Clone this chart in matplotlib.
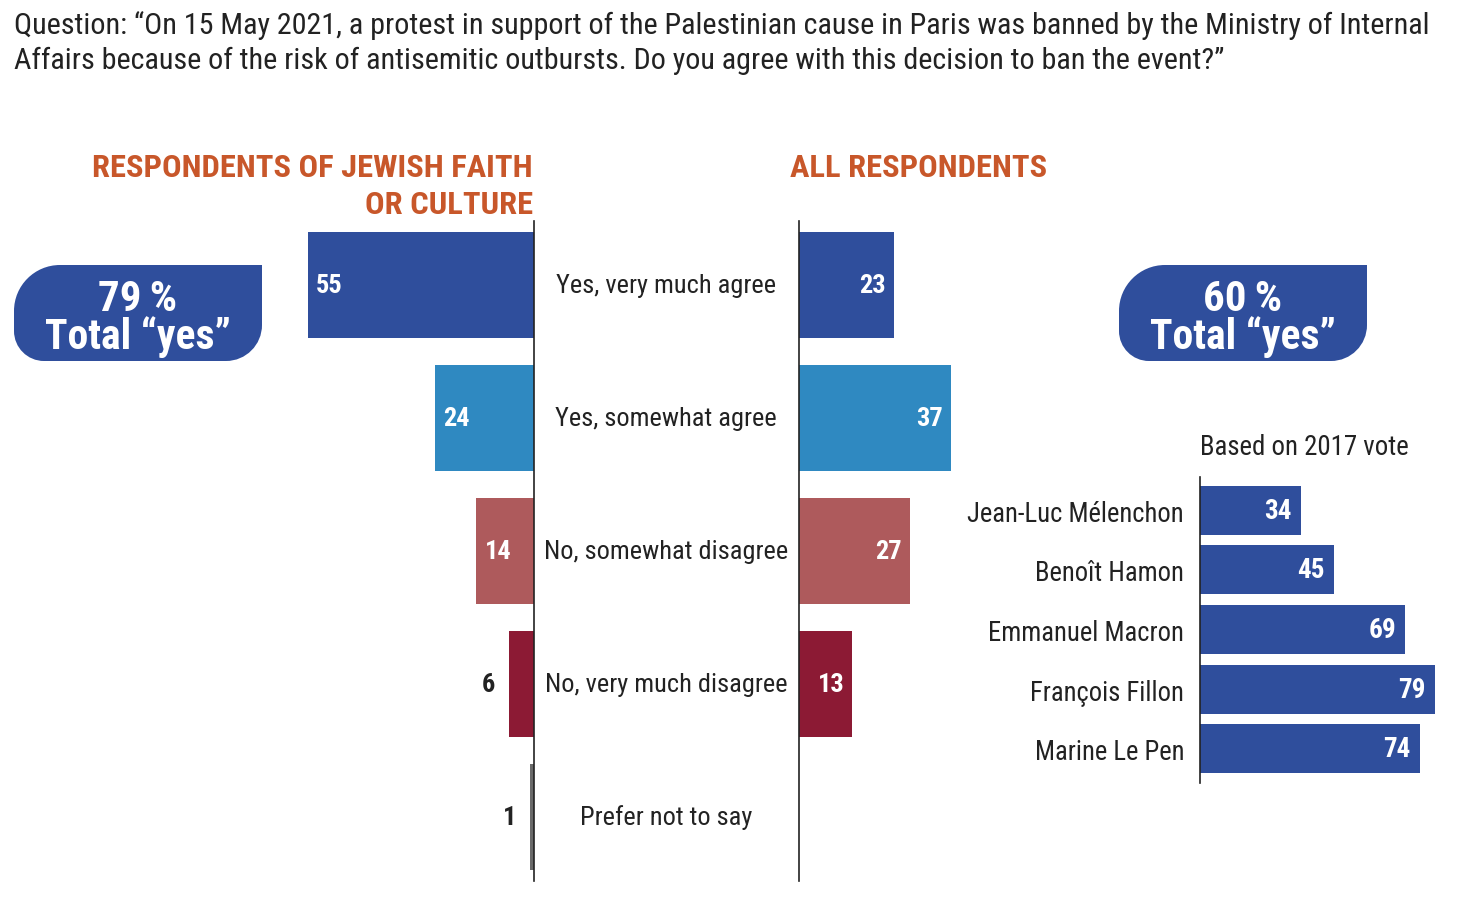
import matplotlib
matplotlib.use('Agg')
import matplotlib.pyplot as plt
from matplotlib import font_manager
from matplotlib.path import Path
from matplotlib.patches import PathPatch
import matplotlib.transforms as mtrans

# ---------------- data ----------------
question_lines = [
    "Question: \u201cOn 15 May 2021, a protest in support of the Palestinian cause in Paris was banned by the Ministry of Internal",
    "Affairs because of the risk of antisemitic outbursts. Do you agree with this decision to ban the event?\u201d",
]
categories = ["Yes, very much agree", "Yes, somewhat agree", "No, somewhat disagree",
              "No, very much disagree", "Prefer not to say"]
jewish_values = [55, 24, 14, 6, 1]
all_values = [23, 37, 27, 13, 0]
jewish_total_yes = 79
all_total_yes = 60
candidates = ["Jean-Luc M\u00e9lenchon", "Beno\u00eet Hamon", "Emmanuel Macron",
              "Fran\u00e7ois Fillon", "Marine Le Pen"]
vote_yes_values = [34, 45, 69, 79, 74]

title_left = ["RESPONDENTS OF JEWISH FAITH", "OR CULTURE"]
title_right = "ALL RESPONDENTS"
vote_title = "Based on 2017 vote"

# ---------------- style ----------------
available = {f.name for f in font_manager.fontManager.ttflist}
FONT = 'Liberation Sans'
for cand in ['Roboto Condensed', 'Liberation Sans Narrow', 'Open Sans Condensed',
             'DejaVu Sans Condensed', 'Liberation Sans']:
    if cand in available:
        FONT = cand
        break
plt.rcParams['font.family'] = [FONT, 'DejaVu Sans']

cat_colors = ['#2F4E9C', '#2F89C1', '#AE5A5C', '#8C1A34', '#6A6A6A']
BLUE = '#2F4E9C'
ORANGE = '#C8572A'
TXT = '#222222'

W, H = 1464, 912
fig = plt.figure(figsize=(W / 100, H / 100), dpi=100)


def px_axes(x0, y0, x1, y1, **kw):
    return fig.add_axes([x0 / W, 1 - y1 / H, (x1 - x0) / W, (y1 - y0) / H], **kw)


# overlay in pixel coordinates for decoration text
deco = px_axes(0, 0, W, H, zorder=0)
deco.set_xlim(0, W)
deco.set_ylim(H, 0)
deco.axis('off')

SCALE = 4.11  # px per percentage point
n = len(categories)

# ---------------- left chart ----------------
axL = px_axes(300, 222, 534, 882)
axL.barh(range(n), [-v for v in jewish_values], height=0.8, color=cat_colors)
axL.set_xlim(-234 / SCALE, 0)
axL.set_ylim(n - 0.519, -0.481)
for s in ['left', 'top', 'bottom']:
    axL.spines[s].set_visible(False)
axL.spines['right'].set_color(TXT)
axL.spines['right'].set_linewidth(1.2)
axL.set_xticks([])
axL.set_yticks([])
axL.patch.set_alpha(0)
for i, v in enumerate(jewish_values):
    if v >= 10:
        axL.annotate(str(v), (-v, i), xytext=(8, 0), textcoords='offset pixels',
                     ha='left', va='center', color='white', fontsize=19,
                     fontweight='bold', annotation_clip=False)
    else:
        axL.annotate(str(v), (-v, i), xytext=(-14, 0), textcoords='offset pixels',
                     ha='right', va='center', color=TXT, fontsize=19,
                     fontweight='bold', annotation_clip=False)

# ---------------- right chart ----------------
axR = px_axes(799, 222, 960, 882)
axR.barh(range(n), all_values, height=0.8, color=cat_colors)
axR.set_xlim(0, 161 / SCALE)
axR.set_ylim(n - 0.519, -0.481)
for s in ['right', 'top', 'bottom']:
    axR.spines[s].set_visible(False)
axR.spines['left'].set_color(TXT)
axR.spines['left'].set_linewidth(1.2)
axR.set_xticks([])
axR.set_yticks([])
axR.patch.set_alpha(0)
for i, v in enumerate(all_values):
    if v > 0:
        axR.annotate(str(v), (v, i), xytext=(-8, 0), textcoords='offset pixels',
                     ha='right', va='center', color='white', fontsize=19,
                     fontweight='bold', annotation_clip=False)

# center category labels
btrans = mtrans.blended_transform_factory(fig.transFigure, axL.transData)
for i, c in enumerate(categories):
    fig.text(666 / W, i, c, transform=btrans, ha='center', va='center',
             fontsize=19, color=TXT)

# ---------------- vote chart ----------------
VSCALE = 2.97
axV = px_axes(1200, 478, 1440, 784)
axV.barh(range(len(candidates)), vote_yes_values, height=0.82, color=BLUE)
axV.set_xlim(0, 240 / VSCALE)
axV.set_ylim(len(candidates) - 0.43, -0.555)
for s in ['right', 'top', 'bottom']:
    axV.spines[s].set_visible(False)
axV.spines['left'].set_color(TXT)
axV.spines['left'].set_linewidth(1.2)
axV.set_xticks([])
axV.set_yticks(range(len(candidates)))
axV.set_yticklabels(candidates, fontsize=19.2, color=TXT)
axV.tick_params(axis='y', length=0, pad=11.5)
axV.patch.set_alpha(0)
for i, v in enumerate(vote_yes_values):
    axV.annotate(str(v), (v, i), xytext=(-9, 0), textcoords='offset pixels',
                 ha='right', va='center', color='white', fontsize=19.5,
                 fontweight='bold', annotation_clip=False)

deco.text(1200, 448, vote_title, ha='left', va='center', fontsize=19.4, color=TXT)

# ---------------- titles ----------------
qtexts = []
for k, line in enumerate(question_lines):
    qtexts.append(deco.text(14, 34 + 35 * k, line, ha='left', va='baseline',
                            fontsize=21, color=TXT))
# fit first line to the reference width
fig.canvas.draw()
r = fig.canvas.get_renderer()
w = qtexts[0].get_window_extent(r).width
fs = 21 * 1414 / w
for t in qtexts:
    t.set_fontsize(fs)

deco.text(533, 177, title_left[0], ha='right', va='baseline', fontsize=23.4,
          fontweight='bold', color=ORANGE)
deco.text(533, 214, title_left[1], ha='right', va='baseline', fontsize=23.4,
          fontweight='bold', color=ORANGE)
deco.text(790, 177, title_right, ha='left', va='baseline', fontsize=23.4,
          fontweight='bold', color=ORANGE)


# ---------------- badges ----------------
def badge(x0, y0, x1, y1, r_tl=46, r_br=36, r_bl=30):
    k = 0.5523
    verts = [
        (x0, y0 + r_tl),
        (x0, y0 + r_tl * (1 - k)), (x0 + r_tl * (1 - k), y0), (x0 + r_tl, y0),
        (x1, y0),
        (x1, y1 - r_br),
        (x1, y1 - r_br * (1 - k)), (x1 - r_br * (1 - k), y1), (x1 - r_br, y1),
        (x0 + r_bl, y1),
        (x0 + r_bl * (1 - k), y1), (x0, y1 - r_bl * (1 - k)), (x0, y1 - r_bl),
        (x0, y0 + r_tl),
    ]
    codes = [Path.MOVETO,
             Path.CURVE4, Path.CURVE4, Path.CURVE4,
             Path.LINETO, Path.LINETO,
             Path.CURVE4, Path.CURVE4, Path.CURVE4,
             Path.LINETO,
             Path.CURVE4, Path.CURVE4, Path.CURVE4,
             Path.CLOSEPOLY]
    deco.add_patch(PathPatch(Path(verts, codes), facecolor=BLUE, edgecolor='none'))


for (bx0, total) in [(14, jewish_total_yes), (1119, all_total_yes)]:
    badge(bx0, 266, bx0 + 248, 362)
    cx = bx0 + 124
    deco.text(cx, 311, f"{total}\u2009%", ha='center', va='baseline', fontsize=31,
              fontweight='bold', color='white')
    deco.text(cx, 349, "Total \u201cyes\u201d", ha='center', va='baseline', fontsize=30,
              fontweight='bold', color='white')

fig.savefig('out.png', dpi=100)
